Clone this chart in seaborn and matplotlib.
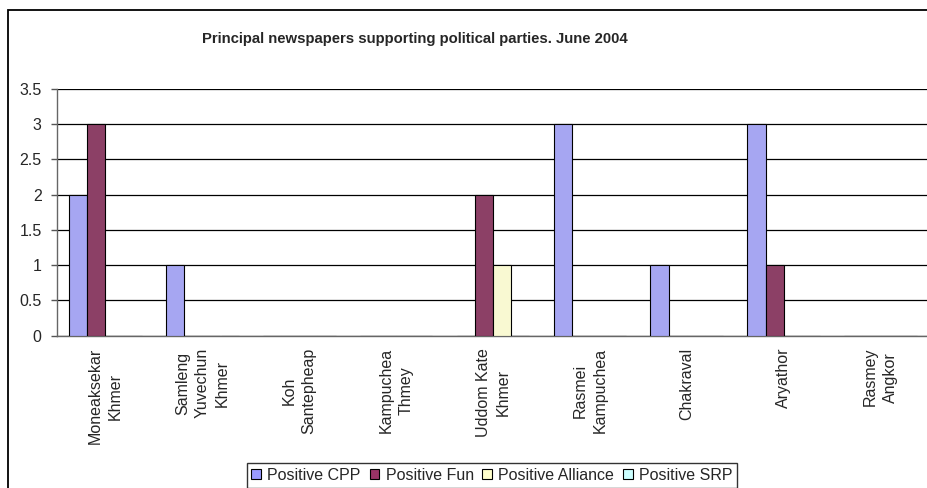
import pandas as pd
import seaborn as sns
import matplotlib
matplotlib.use("Agg")
import matplotlib.pyplot as plt
from matplotlib.patches import Rectangle

papers = ["Moneaksekar\nKhmer", "Samleng\nYuvechun\nKhmer", "Koh\nSantepheap",
          "Kampuchea\nThmey", "Uddom Kate\nKhmer", "Rasmei\nKampuchea",
          "Chakraval", "Aryathor", "Rasmey\nAngkor"]
cpp = [2, 1, 0, 0, 0, 3, 1, 3, 0]
fun = [3, 0, 0, 0, 2, 0, 0, 1, 0]
alliance = [0, 0, 0, 0, 1, 0, 0, 0, 0]
srp = [0, 0, 0, 0, 0, 0, 0, 0, 0]
series = ["Positive CPP", "Positive Fun", "Positive Alliance", "Positive SRP"]
colors = ["#9999FF", "#993366", "#FFFFCC", "#CCFFFF"]

rows = []
for name, vals in zip(series, [cpp, fun, alliance, srp]):
    for p, v in zip(papers, vals):
        rows.append({"paper": p, "series": name, "value": v})
df = pd.DataFrame(rows)

sns.set_style("white")
plt.rcParams['font.family'] = ['Liberation Sans', 'DejaVu Sans']

fig = plt.figure(figsize=(9.27, 4.88), dpi=100)
ax = fig.add_axes([57 / 927, 1 - 335.5 / 488, 872 / 927, (335.5 - 89) / 488])

sns.barplot(data=df, x="paper", y="value", hue="series", order=papers,
            hue_order=series, palette=colors, width=0.75, edgecolor="black",
            linewidth=0.8, errorbar=None, ax=ax, legend=False, zorder=3)

ax.set_ylim(0, 3.5)
ax.set_xlim(-0.5, len(papers) - 0.5)
ax.set_yticks([0, 0.5, 1, 1.5, 2, 2.5, 3, 3.5])
ax.set_yticklabels(["0", "0.5", "1", "1.5", "2", "2.5", "3", "3.5"], fontsize=11.5)
ax.yaxis.grid(True, color="black", linewidth=0.9, zorder=0)
ax.set_axisbelow(True)
ax.set_xlabel("")
ax.set_ylabel("")
ax.set_xticks(range(len(papers)))
ax.set_xticklabels(papers, rotation=90, fontsize=11.5, linespacing=1.4)
ax.set_xticks([i - 0.5 for i in range(len(papers) + 1)], minor=True)
ax.tick_params(axis="x", which="major", length=0, pad=9)
ax.tick_params(axis="x", which="minor", length=4, width=1, color="#555555", direction="out")
ax.tick_params(axis="y", length=4, width=1, color="#555555", direction="out", pad=7, left=True)
for s in ["top", "right"]:
    ax.spines[s].set_visible(False)
for s in ["left", "bottom"]:
    ax.spines[s].set_color("#666666")
    ax.spines[s].set_linewidth(1)

fig.text(415 / 927, 1 - 43 / 488, "Principal newspapers supporting political parties. June 2004",
         ha="center", va="baseline", fontsize=10.7, fontweight="bold")

handles = [Rectangle((0, 0), 1, 1, facecolor=c, edgecolor="black", linewidth=0.8) for c in colors]
leg = fig.legend(handles, series, loc="upper center", bbox_to_anchor=(492 / 927, 1 - 463 / 488),
                 ncol=4, frameon=True, fancybox=False, fontsize=11.5, handlelength=0.6,
                 handleheight=0.6, handletextpad=0.4, columnspacing=0.55, borderpad=0.3,
                 borderaxespad=0)
leg.get_frame().set_edgecolor("black")
leg.get_frame().set_linewidth(1)

fig.patches.append(Rectangle((8 / 927, -0.1), 1.2, 1.1 - 10 / 488, transform=fig.transFigure,
                             fill=False, edgecolor="black", linewidth=1.3))

fig.savefig("out.png", dpi=100)
